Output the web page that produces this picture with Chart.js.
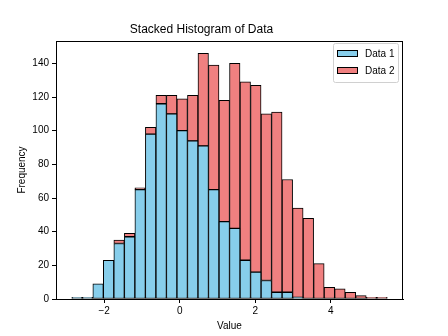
<!DOCTYPE html>
<html>
<head>
<meta charset="utf-8">
<script src="https://cdn.jsdelivr.net/npm/chart.js@4.4.1/dist/chart.umd.min.js"></script>
<style>
  html, body { margin: 0; padding: 0; background: #fff; }
  #wrap { width: 448px; height: 336px; }
</style>
</head>
<body>
<div id="wrap"><canvas id="histChart" width="448" height="336"></canvas></div>
<script>
// bin centres (30 bins, width ~0.278)
const binCenters = [-2.718, -2.440, -2.161, -1.883, -1.605, -1.326, -1.048, -0.770, -0.491, -0.213,
                    0.065, 0.344, 0.622, 0.900, 1.179, 1.457, 1.735, 2.014, 2.292, 2.570,
                    2.849, 3.127, 3.405, 3.684, 3.962, 4.240, 4.519, 4.797, 5.075, 5.354];
const data1 = [1, 1, 9, 23, 33, 37, 65, 98, 116, 110,
               100, 94, 91, 65, 46, 42, 23, 16, 11, 4,
               4, 1, 0, 0, 0, 0, 0, 0, 0, 0];
const data2 = [0, 0, 0, 0, 2, 2, 1, 4, 5, 11,
               19, 27, 55, 74, 72, 98, 106, 111, 99, 107,
               67, 53, 48, 21, 7, 6, 4, 2, 1, 1];
const xTicks = [-2, 0, 2, 4];
const yTicks = [0, 20, 40, 60, 80, 100, 120, 140];

const FONT = "'Liberation Sans', Arial, sans-serif";
Chart.defaults.font.family = FONT;
Chart.defaults.color = "#000";

const toPoints = arr => arr.map((v, i) => ({ x: binCenters[i], y: v }));

// box around the axes + matplotlib style legend
const framePlugin = {
  id: "frame",
  afterDraw(chart) {
    const { ctx, chartArea: a } = chart;
    ctx.save();
    ctx.strokeStyle = "#000";
    ctx.lineWidth = 1;
    ctx.strokeRect(a.left + 0.5, a.top + 0.5, a.right - a.left - 1, a.bottom - a.top);

    // legend
    const bx = a.right - 70, by = a.top + 2, bw = 65, bh = 39;
    ctx.fillStyle = "rgba(255,255,255,0.8)";
    ctx.strokeStyle = "#d0d0d0";
    ctx.beginPath();
    ctx.roundRect(bx + 0.5, by + 0.5, bw, bh, 2);
    ctx.fill();
    ctx.stroke();
    ctx.font = "10px " + FONT;
    ctx.textBaseline = "middle";
    chart.data.datasets.forEach((ds, i) => {
      const y = by + 10 + i * 17;
      ctx.fillStyle = ds.backgroundColor;
      ctx.fillRect(bx + 4, y - 3, 20, 7);
      ctx.strokeStyle = "#000";
      ctx.strokeRect(bx + 4.5, y - 2.5, 20, 6);
      ctx.fillStyle = "#000";
      ctx.fillText(ds.label, bx + 32, y + 1);
    });
    ctx.restore();
  }
};

const chart = new Chart(document.getElementById("histChart").getContext("2d"), {
  type: "bar",
  data: {
    datasets: [
      {
        label: "Data 1",
        data: toPoints(data1),
        backgroundColor: "#87ceeb",
        borderColor: "#000",
        borderWidth: 1,
        borderSkipped: false
      },
      {
        label: "Data 2",
        data: toPoints(data2),
        backgroundColor: "#f08080",
        borderColor: "#000",
        borderWidth: 1,
        borderSkipped: false
      }
    ]
  },
  options: {
    responsive: false,
    animation: false,
    barPercentage: 1,
    categoryPercentage: 1,
    layout: { padding: { left: 0, right: 45, top: 0, bottom: 0 } },
    plugins: {
      legend: { display: false },
      tooltip: { enabled: false },
      title: {
        display: true,
        text: "Stacked Histogram of Data",
        font: { size: 12, weight: "normal" },
        color: "#000",
        padding: { top: 22, bottom: 4.6 }
      }
    },
    scales: {
      x: {
        type: "linear",
        stacked: true,
        offset: false,
        min: -3.275,
        max: 5.91,
        afterBuildTicks: s => { s.ticks = xTicks.map(v => ({ value: v })); },
        afterFit: s => { s.height = 37; },
        grid: { offset: false, drawOnChartArea: false, drawTicks: true, tickLength: 4, color: "#000" },
        border: { color: "#000" },
        ticks: { font: { size: 10 }, padding: 2, maxRotation: 0,
                 callback: v => (v < 0 ? "\u2212" + Math.abs(v) : v) },
        title: { display: true, text: "Value", font: { size: 10 }, padding: { top: 4 } }
      },
      y: {
        stacked: true,
        min: 0,
        max: 153.3,
        afterBuildTicks: s => { s.ticks = yTicks.map(v => ({ value: v })); },
        afterFit: s => { s.width = 56; },
        grid: { drawOnChartArea: false, drawTicks: true, tickLength: 4, color: "#000" },
        border: { color: "#000" },
        ticks: { font: { size: 10 }, padding: 3 },
        title: { display: true, text: "Frequency", font: { size: 10 }, padding: { top: 16 } }
      }
    }
  },
  plugins: [framePlugin]
});
</script>
</body>
</html>
